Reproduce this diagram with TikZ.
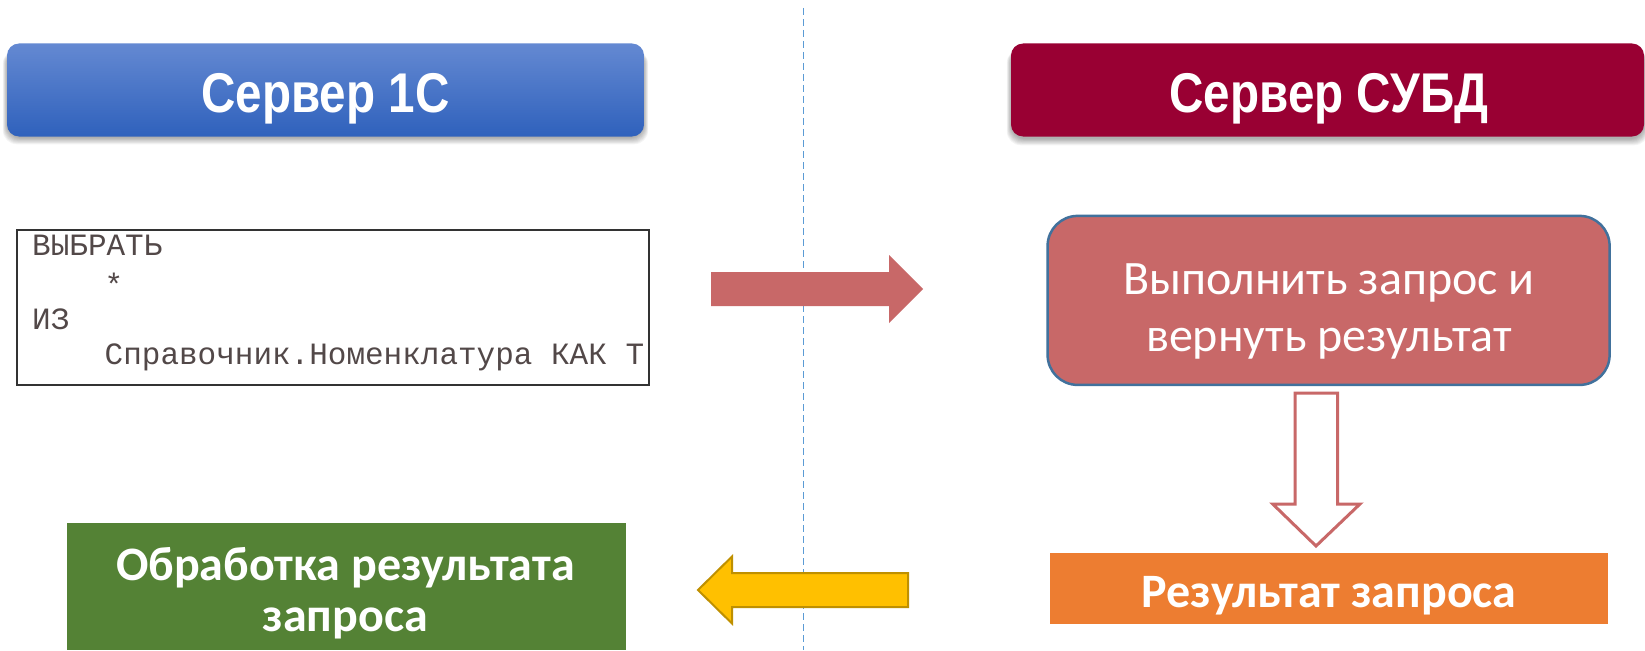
\documentclass[tikz,border=0pt]{standalone}
\usepackage{fontspec}
\usepackage{graphicx}
\setmainfont{Carlito}
\newfontfamily\hdrfont{Liberation Sans}
\newfontfamily\codefont{Liberation Mono}
\newfontfamily\calfont{Carlito}
\definecolor{blueTop}{RGB}{100,137,210}
\definecolor{blueBot}{RGB}{47,97,188}
\definecolor{crimson}{RGB}{153,0,51}
\definecolor{roseFill}{RGB}{200,104,104}
\definecolor{roseEdge}{RGB}{65,113,156}
\definecolor{orangeFill}{RGB}{237,125,49}
\definecolor{greenFill}{RGB}{84,130,53}
\definecolor{yellowFill}{RGB}{255,192,0}
\definecolor{yellowEdge}{RGB}{191,144,0}
\definecolor{divider}{RGB}{91,155,213}
\definecolor{codeInk}{RGB}{82,72,72}
\newcommand{\softshadow}[4]{%
  \foreach \k in {0,1,...,7}{%
    \fill[black,opacity=0.045,rounded corners=14pt]
      (#1-\k*0.6,#2+6) rectangle (#3+\k*0.6,#4+2+\k*0.9);
  }}
\tikzset{
  hdrbox/.style={rounded corners=12pt, inner sep=0pt, minimum width=#1, minimum height=93pt},
  hdrtext/.style={text=white, anchor=base, inner sep=0pt, font=\hdrfont\bfseries\fontsize{56}{60}\selectfont},
  codetext/.style={text=codeInk, anchor=base west, inner sep=0pt, font=\codefont\fontsize{31}{36}\selectfont},
  plainbox/.style={inner sep=0pt},
  caltext/.style={text=white, anchor=base, inner sep=0pt, font=\calfont\fontsize{48}{56}\selectfont},
  calbold/.style={text=white, anchor=base, inner sep=0pt, font=\calfont\bfseries\fontsize{48}{56}\selectfont},
}
\begin{document}
\begin{tikzpicture}[x=1pt,y=-1pt]
\useasboundingbox (0,0) rectangle (1645,650);
\fill[white] (0,0) rectangle (1645,650);

% divider
\draw[divider, line width=1.5pt, dash pattern=on 7pt off 4pt] (803.5,8) -- (803.5,650);

% header boxes
\softshadow{7}{44}{644}{136}
\node[hdrbox=637pt, top color=blueTop, bottom color=blueBot] (srv1c) at (325.5,90) {};
\node[hdrtext] (srv1ct) at (325.5,113) {\scalebox{0.85}[1]{Сервер 1С}};

\softshadow{1011}{43}{1644}{137}
\node[hdrbox=633pt, fill=crimson] (dbms) at (1327.5,90) {};
\node[hdrtext] (dbmst) at (1329,113) {\scalebox{0.85}[1]{Сервер СУБД}};

% code box
\node[plainbox, draw=black!80, line width=1.1pt, minimum width=632pt, minimum height=155pt] (code) at (333,307.5) {};
\node[codetext] (c1) at (32,255) {ВЫБРАТЬ};
\node[codetext] (c2) at (104.5,295) {*};
\node[codetext] (c3) at (32,329.5) {ИЗ};
\node[codetext] (c4) at (104.5,364) {Справочник.Номенклатура КАК Т};

% right arrow
\fill[roseFill] (711,272) -- (889,272) -- (889,255) -- (923,289) -- (889,323) -- (889,306) -- (711,306) -- cycle;

% execute box
\node[plainbox, draw=roseEdge, fill=roseFill, line width=2.5pt, rounded corners=30pt, minimum width=562pt, minimum height=169pt] (exec) at (1328.6,300.4) {};
\node[caltext] (exec1) at (1329,294.5) {Выполнить запрос и};
\node[caltext] (exec2) at (1329,351) {вернуть результат};

% hollow down arrow
\draw[roseFill, fill=white, line width=3pt, line join=miter]
  (1295,393) -- (1337.7,393) -- (1337.7,504) -- (1360,504) -- (1316,546) -- (1272.7,504) -- (1295,504) -- cycle;

% result box
\node[plainbox, fill=orangeFill, minimum width=558pt, minimum height=71.3pt] (res) at (1328.6,588.35) {};
\node[calbold] (rest) at (1329,607.5) {Результат запроса};

% left arrow
\draw[yellowEdge, fill=yellowFill, line width=2pt]
  (908,573) -- (732,573) -- (732,556.5) -- (698,590) -- (732,623.5) -- (732,607) -- (908,607) -- cycle;

% processing box
\node[plainbox, fill=greenFill, minimum width=558.4pt, minimum height=126.7pt] (proc) at (346.6,586.65) {};
\node[calbold] (proc1) at (345.3,580) {Обработка результата};
\node[calbold] (proc2) at (345.3,631) {запроса};
\end{tikzpicture}
\end{document}
